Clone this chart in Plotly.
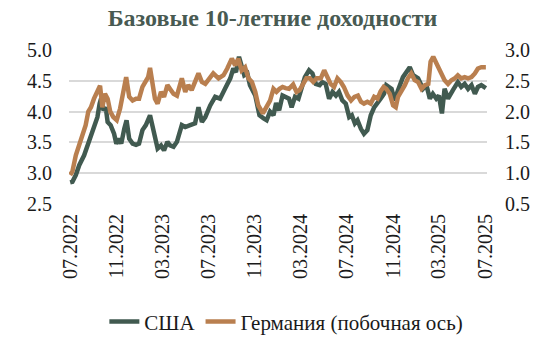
import plotly.graph_objects as go

title = "Базовые 10-летние доходности"
us_name = "США"
de_name = "Германия (побочная ось)"

us_dates = [
    "2022-07-01", "2022-07-07", "2022-07-16", "2022-07-25", "2022-08-07", "2022-08-16", "2022-08-25",
    "2022-09-02", "2022-09-11", "2022-09-17", "2022-09-22", "2022-09-27", "2022-10-03", "2022-10-08",
    "2022-10-16", "2022-10-25", "2022-10-31", "2022-11-07", "2022-11-13", "2022-11-21", "2022-11-27",
    "2022-12-04", "2022-12-13", "2022-12-22", "2022-12-30", "2023-01-08", "2023-01-17", "2023-01-28",
    "2023-02-03", "2023-02-10", "2023-02-17", "2023-02-26", "2023-03-06", "2023-03-15", "2023-03-22",
    "2023-03-31", "2023-04-09", "2023-04-22", "2023-05-01", "2023-05-14", "2023-05-27", "2023-06-05",
    "2023-06-14", "2023-06-23", "2023-07-06", "2023-07-19", "2023-08-01", "2023-08-14", "2023-08-28",
    "2023-09-05", "2023-09-12", "2023-09-20", "2023-09-27", "2023-10-04", "2023-10-12", "2023-10-19",
    "2023-11-02", "2023-11-13", "2023-11-24", "2023-12-02", "2023-12-11", "2023-12-20", "2023-12-27",
    "2024-01-04", "2024-01-13", "2024-01-21", "2024-01-30", "2024-02-06", "2024-02-15", "2024-02-24",
    "2024-03-04", "2024-03-12", "2024-03-23", "2024-04-01", "2024-04-10", "2024-04-20", "2024-04-27",
    "2024-05-06", "2024-05-15", "2024-05-24", "2024-06-02", "2024-06-10", "2024-06-19", "2024-06-28",
    "2024-07-07", "2024-07-14", "2024-07-22", "2024-07-29", "2024-08-07", "2024-08-15", "2024-08-24",
    "2024-09-02", "2024-09-11", "2024-09-20", "2024-09-28", "2024-10-07", "2024-10-13", "2024-10-27",
    "2024-11-04", "2024-11-12", "2024-11-26", "2024-12-14", "2024-12-23", "2025-01-05", "2025-01-18",
    "2025-01-27", "2025-02-05", "2025-02-13", "2025-02-22", "2025-03-01", "2025-03-09", "2025-03-16",
    "2025-03-25", "2025-04-07", "2025-04-20", "2025-04-29", "2025-05-08", "2025-05-17", "2025-05-26",
    "2025-06-04", "2025-06-12", "2025-06-21", "2025-07-03",
]
us_values = [
    2.85, 2.86, 2.97, 3.13, 3.29, 3.45, 3.64,
    3.78, 3.91, 4.13, 4.24, 4.02, 4.07, 3.83,
    3.78, 3.64, 3.48, 3.56, 3.48, 3.72, 3.86,
    3.56, 3.48, 3.46, 3.48, 3.70, 3.78, 3.94,
    3.78, 3.56, 3.40, 3.45, 3.37, 3.51, 3.45,
    3.43, 3.51, 3.78, 3.75, 3.78, 3.81, 4.07,
    3.83, 3.91, 4.10, 4.24, 4.21, 4.37, 4.54,
    4.70, 4.64, 4.89, 4.75, 4.59, 4.62, 4.43,
    4.26, 3.94, 3.89, 3.86, 4.00, 3.94, 4.14,
    4.02, 4.26, 4.24, 4.21, 4.07, 4.24, 4.21,
    4.37, 4.56, 4.67, 4.62, 4.45, 4.43, 4.48,
    4.45, 4.21, 4.32, 4.26, 4.32, 4.18, 4.13,
    3.91, 3.94, 3.81, 3.86, 3.72, 3.64, 3.70,
    3.94, 4.07, 4.13, 4.21, 4.29, 4.43, 4.37,
    4.18, 4.33, 4.56, 4.72, 4.59, 4.54, 4.37,
    4.43, 4.21, 4.29, 4.21, 4.26, 3.97, 4.37,
    4.21, 4.35, 4.48, 4.40, 4.45, 4.37, 4.43,
    4.29, 4.40, 4.43, 4.38,
]

de_dates = [
    "2022-07-01", "2022-07-07", "2022-07-16", "2022-07-25", "2022-08-02", "2022-08-11", "2022-08-18",
    "2022-08-25", "2022-09-02", "2022-09-11", "2022-09-18", "2022-09-24", "2022-10-01", "2022-10-08",
    "2022-10-15", "2022-10-23", "2022-11-01", "2022-11-10", "2022-11-19", "2022-11-26", "2022-12-04",
    "2022-12-13", "2022-12-22", "2022-12-30", "2023-01-08", "2023-01-17", "2023-01-23", "2023-01-28",
    "2023-02-03", "2023-02-10", "2023-02-17", "2023-02-26", "2023-03-06", "2023-03-15", "2023-03-23",
    "2023-03-31", "2023-04-09", "2023-04-22", "2023-05-01", "2023-05-09", "2023-05-18", "2023-05-27",
    "2023-06-05", "2023-06-14", "2023-06-23", "2023-07-04", "2023-07-14", "2023-07-28", "2023-08-10",
    "2023-08-20", "2023-09-01", "2023-09-10", "2023-09-18", "2023-09-27", "2023-10-06", "2023-10-15",
    "2023-10-24", "2023-11-02", "2023-11-10", "2023-11-22", "2023-12-02", "2023-12-11", "2023-12-20",
    "2023-12-28", "2024-01-05", "2024-01-13", "2024-01-21", "2024-01-30", "2024-02-10", "2024-02-19",
    "2024-02-27", "2024-03-07", "2024-03-16", "2024-03-25", "2024-04-03", "2024-04-12", "2024-04-23",
    "2024-05-02", "2024-05-11", "2024-05-19", "2024-05-28", "2024-06-06", "2024-06-15", "2024-06-23",
    "2024-07-03", "2024-07-12", "2024-07-21", "2024-07-30", "2024-08-07", "2024-08-15", "2024-08-24",
    "2024-09-02", "2024-09-11", "2024-09-20", "2024-09-28", "2024-10-06", "2024-10-13", "2024-10-22",
    "2024-10-31", "2024-11-07", "2024-11-13", "2024-11-22", "2024-12-01", "2024-12-09", "2024-12-18",
    "2024-12-27", "2025-01-05", "2025-01-14", "2025-01-23", "2025-02-01", "2025-02-07", "2025-02-14",
    "2025-02-21", "2025-02-27", "2025-03-07", "2025-03-16", "2025-03-25", "2025-04-03", "2025-04-12",
    "2025-04-20", "2025-04-29", "2025-05-08", "2025-05-17", "2025-05-26", "2025-06-04", "2025-06-12",
    "2025-06-21", "2025-07-03",
]
de_values = [
    0.97, 1.03, 1.29, 1.45, 1.62, 1.78, 2.00,
    2.07, 2.21, 2.35, 2.42, 2.07, 2.29, 2.21,
    2.00, 1.91, 1.86, 2.05, 2.32, 2.56, 2.24,
    2.18, 2.21, 2.21, 2.40, 2.48, 2.56, 2.71,
    2.48, 2.21, 2.13, 2.32, 2.24, 2.43, 2.36,
    2.29, 2.26, 2.54, 2.32, 2.43, 2.35, 2.48,
    2.62, 2.48, 2.45, 2.54, 2.62, 2.54, 2.59,
    2.70, 2.86, 2.75, 2.86, 2.67, 2.72, 2.54,
    2.48, 2.32, 2.10, 1.97, 2.07, 2.18, 2.37,
    2.32, 2.37, 2.40, 2.38, 2.37, 2.44, 2.32,
    2.35, 2.45, 2.54, 2.54, 2.48, 2.54, 2.54,
    2.67, 2.56, 2.45, 2.40, 2.54, 2.48, 2.40,
    2.26, 2.18, 2.24, 2.26, 2.16, 2.13, 2.16,
    2.13, 2.24, 2.21, 2.33, 2.40, 2.37, 2.29,
    2.10, 2.07, 2.24, 2.32, 2.43, 2.54, 2.62,
    2.51, 2.48, 2.37, 2.43, 2.45, 2.81, 2.89,
    2.81, 2.72, 2.64, 2.51, 2.45, 2.51, 2.54,
    2.59, 2.54, 2.56, 2.54, 2.56, 2.62, 2.70,
    2.72, 2.72,
]

x_tick_dates = ["2022-07-01", "2022-11-01", "2023-03-01", "2023-07-01", "2023-11-01",
                "2024-03-01", "2024-07-01", "2024-11-01", "2025-03-01", "2025-07-01"]
x_tick_labels = ["07.2022", "11.2022", "03.2023", "07.2023", "11.2023",
                 "03.2024", "07.2024", "11.2024", "03.2025", "07.2025"]
left_ticks = [2.5, 3.0, 3.5, 4.0, 4.5, 5.0]
right_ticks = [0.5, 1.0, 1.5, 2.0, 2.5, 3.0]

US_COLOR = "#415a50"
DE_COLOR = "#b97f4f"
FONT = "Liberation Serif"
TXT = "#1a1a1a"

fig = go.Figure()
fig.add_trace(go.Scatter(x=us_dates, y=us_values, name=us_name, mode="lines",
                         line=dict(color=US_COLOR, width=4.5), yaxis="y"))
fig.add_trace(go.Scatter(x=de_dates, y=de_values, name=de_name, mode="lines",
                         line=dict(color=DE_COLOR, width=4.5), yaxis="y2"))

fig.update_layout(
    width=545, height=354,
    margin=dict(l=69, r=58, t=50, b=150),
    paper_bgcolor="white", plot_bgcolor="white",
    font=dict(family=FONT, size=20, color=TXT),
    title=dict(text="<b>" + title + "</b>", x=0.5, xanchor="center", y=1 - 18 / 354,
               yanchor="middle", font=dict(family=FONT, size=24, color="#485a52")),
    showlegend=True,
    legend=dict(orientation="h", x=0.52, xanchor="center", y=-0.766, yanchor="middle",
                font=dict(family=FONT, size=21, color=TXT), itemwidth=30,
                traceorder="normal"),
    xaxis=dict(type="date", range=["2022-06-28", "2025-07-06"], tickvals=x_tick_dates,
               ticktext=x_tick_labels, tickangle=-90, showgrid=False, zeroline=False,
               showline=False, ticks="", ticklabelstandoff=5,
               tickfont=dict(family=FONT, size=20, color=TXT)),
    yaxis=dict(range=[2.5, 5.0], tickvals=left_ticks, ticktext=[f"{v:.1f}" for v in left_ticks],
               showgrid=True, gridcolor="#d9d9d9", gridwidth=1.5, zeroline=False,
               showline=False, ticks="", ticklabelstandoff=16,
               tickfont=dict(family=FONT, size=20, color=TXT)),
    yaxis2=dict(range=[0.5, 3.0], tickvals=right_ticks, ticktext=[f"{v:.1f}" for v in right_ticks],
                overlaying="y", side="right", showgrid=False, zeroline=False,
                showline=False, ticks="", ticklabelstandoff=17,
                tickfont=dict(family=FONT, size=20, color=TXT)),
)

fig.write_html("out.html")
